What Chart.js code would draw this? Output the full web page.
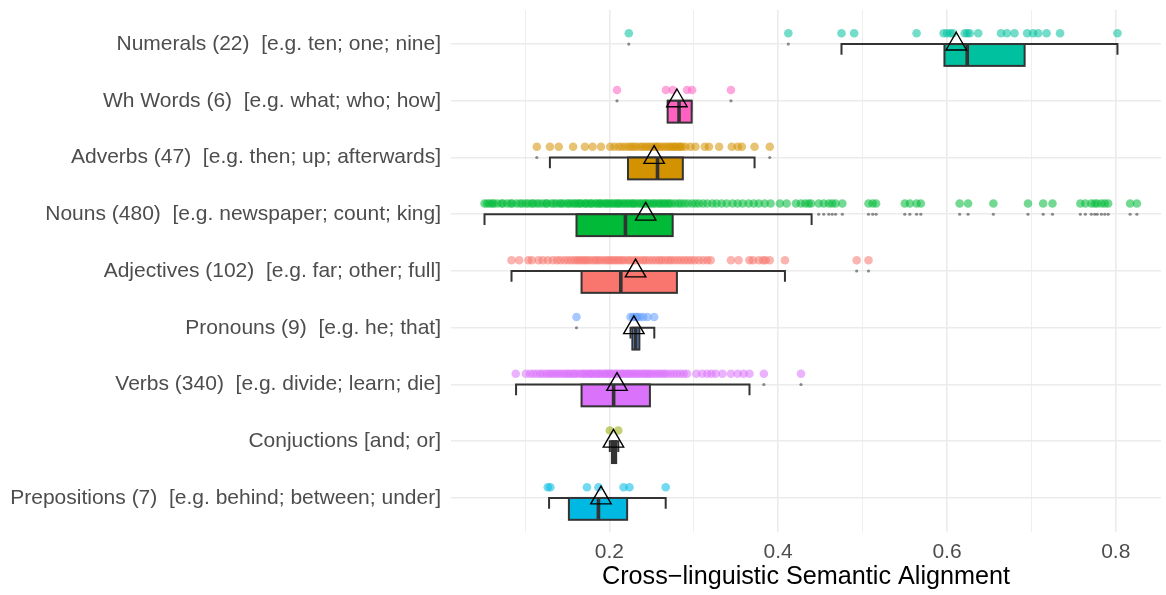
<!DOCTYPE html>
<html>
<head>
<meta charset="utf-8">
<script src="https://cdn.jsdelivr.net/npm/chart.js@4"></script>
<style>
  html, body { margin: 0; padding: 0; background: #fff; }
  #wrap { width: 1166px; height: 595px; }
</style>
</head>
<body>
<div id="wrap"><canvas id="myChart" width="1166" height="595"></canvas></div>
<script>
// categories, top to bottom
const categories = [
  "Numerals (22)  [e.g. ten; one; nine]",
  "Wh Words (6)  [e.g. what; who; how]",
  "Adverbs (47)  [e.g. then; up; afterwards]",
  "Nouns (480)  [e.g. newspaper; count; king]",
  "Adjectives (102)  [e.g. far; other; full]",
  "Pronouns (9)  [e.g. he; that]",
  "Verbs (340)  [e.g. divide; learn; die]",
  "Conjuctions [and; or]",
  "Prepositions (7)  [e.g. behind; between; under]"
];
const colors = ["#00C19F", "#FF61C3", "#D39200", "#00BA38", "#F8766D", "#619CFF", "#DB72FB", "#93AA00", "#00B9E3"];

// box statistics
const whiskerLo = [0.475, 0.2695, 0.1295, 0.052, 0.084, 0.225, 0.0894, 0.2005, 0.1285];
const q1 = [0.597, 0.269, 0.222, 0.161, 0.167, 0.2272, 0.167, 0.203, 0.152];
const median = [0.624, 0.2825, 0.257, 0.219, 0.2135, 0.2312, 0.205, 0.2055, 0.187];
const q3 = [0.692, 0.2975, 0.287, 0.275, 0.280, 0.2355, 0.248, 0.208, 0.221];
const whiskerHi = [0.802, 0.297, 0.372, 0.4396, 0.408, 0.2532, 0.366, 0.2105, 0.2667];
const means = [0.611, 0.280, 0.253, 0.243, 0.231, 0.229, 0.209, 0.2048, 0.190];
const outliers = [
  [0.223, 0.412],
  [0.209, 0.344],
  [0.114, 0.390],
  [0.448, 0.454, 0.460, 0.464, 0.468, 0.476, 0.507, 0.512, 0.516, 0.550, 0.556, 0.564, 0.569, 0.615, 0.625, 0.655,
   0.696, 0.714, 0.725, 0.758, 0.764, 0.771, 0.775, 0.778, 0.783, 0.787, 0.791, 0.817, 0.825],
  [0.493, 0.507],
  [0.161],
  [0.383, 0.427],
  [],
  []
];

// jittered word scores (a readable subset where points overlap)
const numeralsPts = [0.223, 0.412, 0.475, 0.490, 0.564, 0.596, 0.600, 0.604, 0.607, 0.621, 0.624, 0.627, 0.637,
  0.664, 0.671, 0.680, 0.695, 0.702, 0.708, 0.718, 0.734, 0.802];
const whWordsPts = [0.209, 0.267, 0.275, 0.292, 0.298, 0.344];
const adverbsPts = [0.114, 0.1295, 0.140, 0.157, 0.171, 0.180, 0.190, 0.201, 0.206, 0.211, 0.215, 0.219,
  0.223, 0.226, 0.229, 0.232, 0.236, 0.239, 0.242, 0.245, 0.248, 0.251, 0.254, 0.256,
  0.258, 0.261, 0.264, 0.267, 0.270, 0.272, 0.275, 0.277, 0.279, 0.282, 0.284, 0.286,
  0.290, 0.296, 0.302, 0.313, 0.318, 0.330, 0.345, 0.352, 0.357, 0.372, 0.390];
const nounsPts = [0.052, 0.055, 0.058, 0.061, 0.063, 0.067, 0.072, 0.074, 0.079, 0.083, 0.085, 0.090, 0.094, 0.097,
  0.101, 0.104, 0.108, 0.110, 0.114, 0.117, 0.121, 0.125, 0.126, 0.131, 0.134, 0.137, 0.141, 0.143, 0.146,
  0.150, 0.152, 0.155, 0.158, 0.160,
  0.163, 0.165, 0.167, 0.171, 0.172, 0.175, 0.178, 0.179, 0.183, 0.185, 0.188, 0.189, 0.192, 0.195, 0.197,
  0.199, 0.202, 0.204, 0.207, 0.209, 0.211, 0.213, 0.216, 0.218,
  0.221, 0.223, 0.226, 0.228, 0.230, 0.233, 0.236, 0.238, 0.241, 0.243, 0.245, 0.248, 0.251, 0.253, 0.256,
  0.259, 0.261, 0.264, 0.266, 0.269, 0.271, 0.274,
  0.278, 0.282, 0.285, 0.289, 0.293, 0.298, 0.302, 0.306, 0.311, 0.316, 0.322, 0.327, 0.333, 0.339, 0.346,
  0.352, 0.358, 0.365, 0.371, 0.377, 0.384, 0.391, 0.402, 0.410, 0.421, 0.427, 0.432, 0.436, 0.439,
  0.448, 0.454, 0.460, 0.464, 0.468, 0.476, 0.507, 0.512, 0.516, 0.550, 0.556, 0.564, 0.569, 0.615, 0.625, 0.655,
  0.696, 0.714, 0.725, 0.758, 0.764, 0.771, 0.775, 0.778, 0.783, 0.787, 0.791, 0.817, 0.825];
const adjectivesPts = [0.084, 0.093, 0.104, 0.108, 0.116, 0.121, 0.127, 0.133, 0.138, 0.142, 0.147, 0.151, 0.155,
  0.159, 0.162, 0.165,
  0.168, 0.171, 0.174, 0.177, 0.181, 0.184, 0.187, 0.190, 0.194, 0.197, 0.200, 0.203, 0.206, 0.209, 0.212,
  0.215, 0.218, 0.222, 0.225, 0.229, 0.232, 0.236, 0.240, 0.243, 0.247, 0.251, 0.255, 0.259, 0.262, 0.266,
  0.270, 0.273, 0.277,
  0.281, 0.285, 0.289, 0.293, 0.297, 0.301, 0.306, 0.311, 0.316, 0.320, 0.344, 0.353, 0.366, 0.370, 0.377,
  0.382, 0.385, 0.390, 0.408, 0.493, 0.507];
const pronounsPts = [0.161, 0.225, 0.228, 0.231, 0.233, 0.236, 0.240, 0.245, 0.253];
const verbsPts = [0.089, 0.101, 0.106, 0.110, 0.114, 0.118, 0.121, 0.125, 0.128, 0.131, 0.134, 0.137, 0.140,
  0.143, 0.146, 0.149, 0.151, 0.154, 0.157, 0.159, 0.162, 0.165,
  0.168, 0.170, 0.172, 0.175, 0.177, 0.179, 0.181, 0.184, 0.186, 0.188, 0.190, 0.193, 0.195, 0.197, 0.199,
  0.201, 0.203,
  0.206, 0.208, 0.210, 0.213, 0.215, 0.217, 0.220, 0.222, 0.224, 0.227, 0.229, 0.232, 0.234, 0.237, 0.240,
  0.242, 0.245, 0.247,
  0.250, 0.253, 0.256, 0.259, 0.262, 0.265, 0.268, 0.272, 0.276, 0.280, 0.284, 0.288, 0.292, 0.303, 0.310,
  0.316, 0.321, 0.326, 0.334, 0.344, 0.352, 0.359, 0.366, 0.383, 0.427];
const conjunctionsPts = [0.2005, 0.2105];
const prepositionsPts = [0.127, 0.130, 0.1734, 0.187, 0.2168, 0.2238, 0.2667];

const pointsByCategory = [numeralsPts, whWordsPts, adverbsPts, nounsPts, adjectivesPts, pronounsPts,
  verbsPts, conjunctionsPts, prepositionsPts];

// x ticks
const xGridValues = [0.1, 0.2, 0.3, 0.4, 0.5, 0.6, 0.7, 0.8];
const xTickLabels = { 0.2: "0.2", 0.4: "0.4", 0.6: "0.6", 0.8: "0.8" };

// layout (in y-axis units: one category = 1)
const pointLift = 0.19;
const boxDepth = 0.385;
const capDepth = 0.19;

function hexAlpha(hex, a) {
  const n = parseInt(hex.slice(1), 16);
  return `rgba(${(n >> 16) & 255}, ${(n >> 8) & 255}, ${n & 255}, ${a})`;
}

const datasets = [];
datasets.push({
  label: "mean",
  data: means.map((m, i) => ({ x: m, y: i })),
  pointStyle: "triangle",
  pointRadius: 11.8,
  backgroundColor: "rgba(0,0,0,0)",
  borderColor: "#000",
  borderWidth: 1.4,
  order: 0
});
datasets.push({
  label: "outliers",
  data: outliers.flatMap((arr, i) => arr.map(v => ({ x: v, y: i }))),
  pointRadius: 1.6,
  backgroundColor: "rgba(50,50,50,0.55)",
  borderWidth: 0,
  order: 1
});
pointsByCategory.forEach((pts, i) => {
  datasets.push({
    label: categories[i],
    data: pts.map(v => ({ x: v, y: i - pointLift })),
    pointRadius: 4.3,
    backgroundColor: hexAlpha(colors[i], 0.55),
    borderWidth: 0,
    order: 2
  });
});

const boxPlugin = {
  id: "boxes",
  beforeDatasetsDraw(chart) {
    const { ctx, scales: { x, y } } = chart;
    ctx.save();
    categories.forEach((c, i) => {
      const top = y.getPixelForValue(i);
      const bottom = y.getPixelForValue(i + boxDepth);
      const cap = y.getPixelForValue(i + capDepth);
      const wl = x.getPixelForValue(whiskerLo[i]);
      const wh = x.getPixelForValue(whiskerHi[i]);
      ctx.strokeStyle = "#333333";
      ctx.lineWidth = 2;
      ctx.lineJoin = "miter";
      ctx.beginPath();
      ctx.moveTo(wl, cap);
      ctx.lineTo(wl, top);
      ctx.lineTo(wh, top);
      ctx.lineTo(wh, cap);
      ctx.stroke();

      const x1 = x.getPixelForValue(q1[i]);
      const x3 = x.getPixelForValue(q3[i]);
      ctx.fillStyle = colors[i];
      ctx.fillRect(x1, top, x3 - x1, bottom - top);
      ctx.strokeRect(x1, top, x3 - x1, bottom - top);

      const xm = x.getPixelForValue(median[i]);
      ctx.lineWidth = 3.6;
      ctx.beginPath();
      ctx.moveTo(xm, top);
      ctx.lineTo(xm, bottom);
      ctx.stroke();
    });
    ctx.restore();
  }
};

const config = {
  type: "scatter",
  data: { datasets: datasets },
  options: {
    responsive: false,
    animation: false,
    devicePixelRatio: 1,
    layout: { autoPadding: false, padding: { top: 10, right: 5, left: 0, bottom: 0 } },
    plugins: {
      legend: { display: false },
      tooltip: { enabled: false }
    },
    scales: {
      x: {
        type: "linear",
        min: 0.0123,
        max: 0.8536,
        afterBuildTicks: (axis) => { axis.ticks = xGridValues.map(v => ({ value: v })); },
        afterFit: (axis) => {
          axis.height = 63;
          axis.paddingLeft = 0;
          axis.paddingRight = 0;
        },
        border: { display: false },
        grid: {
          color: "#ebebeb",
          lineWidth: (ctx) => (ctx.tick && xTickLabels[ctx.tick.value] ? 1.6 : 0.8),
          drawTicks: false
        },
        ticks: {
          autoSkip: false,
          maxRotation: 0,
          padding: 8,
          color: "#4d4d4d",
          font: { family: "'Liberation Sans', Arial, sans-serif", size: 21 },
          callback: (v) => xTickLabels[v] || ""
        },
        title: {
          display: true,
          text: "Cross\u2212linguistic Semantic Alignment",
          color: "#000",
          font: { family: "'Liberation Sans', Arial, sans-serif", size: 25.2 },
          padding: { top: 0, bottom: 3 }
        }
      },
      y: {
        type: "linear",
        reverse: true,
        min: -0.6,
        max: 8.6,
        afterBuildTicks: (axis) => { axis.ticks = categories.map((c, i) => ({ value: i })); },
        afterFit: (axis) => {
          axis.width = 451;
          axis.paddingTop = 0;
          axis.paddingBottom = 0;
        },
        border: { display: false },
        grid: { color: "#ebebeb", lineWidth: 1.6, drawTicks: false },
        ticks: {
          autoSkip: false,
          padding: 10,
          color: "#4d4d4d",
          font: { family: "'Liberation Sans', Arial, sans-serif", size: 21 },
          callback: (v) => categories[v]
        }
      }
    }
  },
  plugins: [boxPlugin]
};

new Chart(document.getElementById("myChart").getContext("2d"), config);
</script>
</body>
</html>
